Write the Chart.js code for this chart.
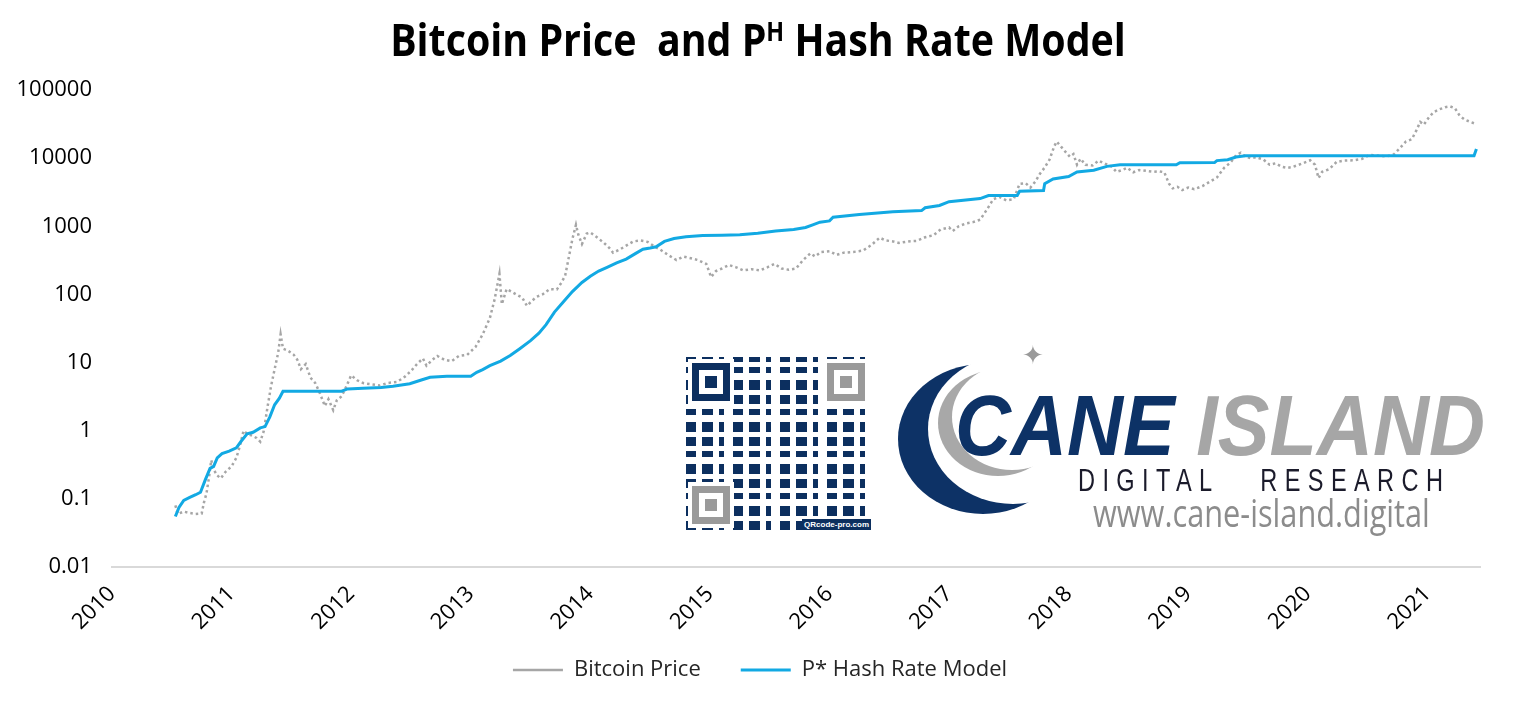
<!DOCTYPE html>
<html>
<head>
<meta charset="utf-8">
<script src="https://cdn.jsdelivr.net/npm/chart.js@4.4.1/dist/chart.umd.min.js"></script>
<style>
  body { margin: 0; background: #fff; }
  #wrap { position: relative; width: 1518px; height: 705px; overflow: hidden; }
  #title { position: absolute; left: 758px; top: 17px; white-space: nowrap; font: 700 44px "Open Sans", sans-serif; line-height: 44px; color: #000; transform-origin: 50% 0; }
  #title sup { font-size: 26px; vertical-align: 15px; line-height: 0; }
  .logo { position: absolute; white-space: pre; transform-origin: 0 0; }
  #qr { position: absolute; left: 686px; top: 357px; width: 185px; height: 173px;
    background:
      repeating-linear-gradient(0deg, transparent 0 9px, #fff 9px 14px, transparent 14px 24px, #fff 24px 31px, transparent 31px 37px, #fff 37px 42px),
      repeating-linear-gradient(90deg, #0c2f5f 0 10px, #fff 10px 16px, #0c2f5f 16px 27px, #fff 27px 33px, #0c2f5f 33px 38px, #fff 38px 47px); }
  .f { position: absolute; width: 38px; height: 38px; box-sizing: border-box; border: 7px solid #0c2f5f; background: #fff; box-shadow: 0 0 0 4px #fff; }
  .f::after { content: ''; position: absolute; left: 6px; top: 6px; width: 12px; height: 12px; background: #0c2f5f; }
  .f.g { border-color: #9a9a9a; }
  .f.g::after { background: #9a9a9a; }
  #qrlab { position: absolute; right: 0; bottom: 0; font: 700 8px "Liberation Sans", sans-serif; color: #fff; background: #0c2f5f; padding: 1px 2px; }
  #moonA { position: absolute; left: 928px; top: 354px; width: 170px; height: 150px; border-radius: 50%; box-shadow: -30px 10px 0 0 #0d3266; }
  #moonB { position: absolute; left: 952px; top: 364px; width: 120px; height: 106px; border-radius: 50%; box-shadow: -14px 6px 0 0 #a8a8a8; }
  #star { position: absolute; left: 1022px; top: 340px; font: 26px "DejaVu Sans", sans-serif; color: #9a9a9a; }
</style>
</head>
<body>
<div id="wrap">
  <canvas id="chart" width="1518" height="705"></canvas>
  <div id="title">Bitcoin Price&nbsp; and P<sup>H</sup> Hash Rate Model</div>
  <div id="qr">
    <div class="f" style="left:6px;top:6px"></div>
    <div class="f g" style="left:141px;top:6px"></div>
    <div class="f g" style="left:6px;top:129px"></div>
    <div id="qrlab">QRcode-pro.com</div>
  </div>
  <div id="moonA"></div>
  <div id="moonB"></div>
  <div id="star">✦</div>
  <div id="cane" class="logo" style="left:955px;top:383px;font:italic 700 85px 'Liberation Sans',sans-serif;line-height:85px"><span style="color:#0d3266">CANE</span><span style="color:#a6a6a6"> ISLAND</span></div>
  <div id="digital" class="logo" style="left:1078px;top:464px;font:400 32px 'Liberation Sans',sans-serif;line-height:32px;letter-spacing:10px;color:#1b1b2b">DIGITAL   RESEARCH</div>
  <div id="www" class="logo" style="left:1093px;top:493px;font:400 38px 'Open Sans',sans-serif;line-height:38px;color:#8c8c8c">www.cane-island.digital</div>
</div>
<script>
// series names
var seriesNames = ["Bitcoin Price", "P* Hash Rate Model"];

// bitcoin price (year as decimal, USD)
var priceYears = [2010.53, 2010.55, 2010.60, 2010.65, 2010.70, 2010.75, 2010.77, 2010.79, 2010.81, 2010.83,
  2010.85, 2010.88, 2010.91, 2010.95, 2011.00, 2011.04, 2011.07, 2011.10, 2011.13, 2011.17,
  2011.21, 2011.24, 2011.27, 2011.30, 2011.33, 2011.36, 2011.39, 2011.41, 2011.43, 2011.47,
  2011.52, 2011.55, 2011.58, 2011.62, 2011.66, 2011.70, 2011.74, 2011.78, 2011.81, 2011.85,
  2011.88, 2011.92, 2011.96, 2012.00, 2012.05, 2012.10, 2012.17, 2012.24, 2012.30, 2012.38,
  2012.44, 2012.50, 2012.55, 2012.60, 2012.63, 2012.68, 2012.72, 2012.78, 2012.84, 2012.90,
  2012.97, 2013.04, 2013.10, 2013.16, 2013.20, 2013.22, 2013.24, 2013.26, 2013.30, 2013.34,
  2013.38, 2013.43, 2013.47, 2013.51, 2013.55, 2013.60, 2013.66, 2013.72, 2013.76, 2013.79,
  2013.82, 2013.85, 2013.88, 2013.90, 2013.93, 2013.97, 2014.00, 2014.05, 2014.11, 2014.16,
  2014.19, 2014.24, 2014.30, 2014.36, 2014.42, 2014.48, 2014.54, 2014.58, 2014.65, 2014.72,
  2014.78, 2014.84, 2014.90, 2014.97, 2015.01, 2015.05, 2015.10, 2015.16, 2015.22, 2015.28,
  2015.35, 2015.42, 2015.48, 2015.54, 2015.60, 2015.66, 2015.72, 2015.78, 2015.84, 2015.88,
  2015.93, 2016.00, 2016.06, 2016.12, 2016.20, 2016.28, 2016.35, 2016.42, 2016.47, 2016.53,
  2016.58, 2016.66, 2016.73, 2016.80, 2016.87, 2016.93, 2017.00, 2017.03, 2017.08, 2017.14,
  2017.20, 2017.26, 2017.32, 2017.37, 2017.42, 2017.48, 2017.54, 2017.59, 2017.64, 2017.68,
  2017.72, 2017.76, 2017.80, 2017.84, 2017.88, 2017.90, 2017.94, 2017.98, 2018.01, 2018.04,
  2018.07, 2018.10, 2018.14, 2018.20, 2018.25, 2018.31, 2018.36, 2018.40, 2018.45, 2018.49,
  2018.54, 2018.59, 2018.65, 2018.71, 2018.76, 2018.80, 2018.84, 2018.87, 2018.91, 2018.95,
  2019.00, 2019.05, 2019.12, 2019.18, 2019.24, 2019.30, 2019.35, 2019.40, 2019.44, 2019.48,
  2019.52, 2019.57, 2019.63, 2019.68, 2019.73, 2019.78, 2019.83, 2019.87, 2019.95, 2020.02,
  2020.06, 2020.09, 2020.12, 2020.18, 2020.24, 2020.30, 2020.38, 2020.45, 2020.52, 2020.60,
  2020.66, 2020.72, 2020.77, 2020.82, 2020.87, 2020.91, 2020.94, 2020.97, 2021.01, 2021.05,
  2021.10, 2021.15, 2021.19, 2021.23, 2021.27, 2021.31, 2021.36, 2021.40];
var priceValues = [0.08, 0.06, 0.065, 0.062, 0.06, 0.061, 0.09, 0.12, 0.2, 0.37,
  0.27, 0.22, 0.2, 0.25, 0.3, 0.4, 0.6, 1.0, 0.9, 0.85,
  0.78, 0.69, 1.0, 2.2, 4.5, 8, 14, 26, 16, 15,
  13, 11, 8, 9.5, 6, 5, 3.5, 2.3, 2.9, 2.0,
  2.8, 3.2, 4.5, 6.5, 5.5, 5.0, 4.8, 4.6, 5.0, 5.2,
  6.0, 7.5, 9.5, 11.5, 9, 11, 12.5, 11, 10.5, 12.5,
  13, 17, 26, 45, 85, 130, 200, 72, 120, 110,
  100, 90, 68, 80, 92, 100, 120, 118, 150, 190,
  350, 650, 1050, 750, 550, 780, 810, 700, 580, 480,
  410, 450, 520, 600, 620, 590, 500, 460, 380, 320,
  360, 340, 320, 280, 180, 220, 240, 270, 250, 225,
  235, 225, 250, 280, 240, 230, 240, 320, 400, 360,
  420, 430, 380, 410, 420, 440, 530, 680, 620, 600,
  570, 600, 610, 690, 740, 900, 960, 850, 1000, 1100,
  1150, 1250, 1800, 2500, 2700, 2400, 2500, 4200, 4300, 3700,
  4500, 5900, 7300, 9500, 15000, 17500, 14500, 12000, 10500, 11500,
  8000, 9800, 8000, 7800, 9200, 8200, 7500, 6300, 6700, 7200,
  6200, 6700, 6500, 6300, 6400, 6200, 4200, 3600, 3800, 3400,
  3700, 3500, 3900, 4500, 5200, 7200, 8500, 11000, 12000, 10500,
  10000, 10300, 9500, 8000, 8400, 7500, 7200, 7400, 8300, 9300,
  8000, 5100, 6300, 6900, 8800, 9200, 9300, 9700, 11200, 10800,
  10600, 11400, 14000, 17500, 19000, 26000, 34000, 31000, 39000, 47000,
  52000, 56000, 57500, 54000, 42000, 37000, 34000, 32000];

// P* hash rate model
var modelYears = [2010.53, 2010.56, 2010.60, 2010.65, 2010.70, 2010.74, 2010.78, 2010.82, 2010.85, 2010.88,
  2010.92, 2010.98, 2011.04, 2011.08, 2011.13, 2011.18, 2011.24, 2011.28, 2011.32, 2011.36,
  2011.40, 2011.43, 2011.92, 2011.97, 2012.10, 2012.25, 2012.35, 2012.49, 2012.58, 2012.66,
  2012.80, 2013.00, 2013.05, 2013.10, 2013.16, 2013.25, 2013.33, 2013.41, 2013.50, 2013.57,
  2013.63, 2013.70, 2013.77, 2013.85, 2013.93, 2014.00, 2014.07, 2014.14, 2014.22, 2014.30,
  2014.38, 2014.44, 2014.50, 2014.55, 2014.62, 2014.70, 2014.80, 2014.94, 2015.10, 2015.25,
  2015.40, 2015.55, 2015.70, 2015.80, 2015.86, 2015.92, 2016.00, 2016.03, 2016.25, 2016.53,
  2016.77, 2016.80, 2016.92, 2017.00, 2017.26, 2017.33, 2017.57, 2017.59, 2017.79, 2017.80,
  2017.87, 2018.00, 2018.07, 2018.21, 2018.32, 2018.43, 2018.90, 2018.93, 2019.22, 2019.24,
  2019.33, 2019.40, 2019.48, 2021.39, 2021.41];
var modelValues = [0.055, 0.075, 0.095, 0.105, 0.115, 0.125, 0.19, 0.28, 0.3, 0.4,
  0.46, 0.5, 0.56, 0.7, 0.9, 0.95, 1.1, 1.15, 1.6, 2.4,
  3.0, 3.8, 3.8, 4.1, 4.2, 4.3, 4.5, 4.9, 5.5, 6.1,
  6.3, 6.3, 7.2, 7.9, 9.0, 10.5, 12.7, 16, 21, 27,
  36, 55, 76, 110, 150, 185, 220, 250, 290, 330,
  400, 460, 480, 500, 600, 660, 700, 735, 740, 750,
  790, 850, 900, 960, 1050, 1150, 1200, 1360, 1490, 1630,
  1700, 1870, 2020, 2300, 2550, 2830, 2830, 3270, 3350, 4230,
  4950, 5380, 6270, 6630, 7570, 8000, 8000, 8570, 8600, 9200,
  9500, 10400, 10800, 10800, 13600];

// axis ticks
var yearTicks = [2010, 2011, 2012, 2013, 2014, 2015, 2016, 2017, 2018, 2019, 2020, 2021];
var valueTicks = [0.01, 0.1, 1, 10, 100, 1000, 10000, 100000];

function toPoints(xs, ys) {
  var pts = [];
  for (var i = 0; i < xs.length; i++) {
    pts.push({x: xs[i], y: ys[i]});
  }
  return pts;
}

var tickFont = {family: "'Open Sans', sans-serif", size: 22};

// nudge the legend a little to the right, like in the picture
var legendShift = {
  id: "legendShift",
  afterLayout: function(c) {
    c.legend.left += 28;
  }
};

var ctx = document.getElementById("chart").getContext("2d");
var chart = new Chart(ctx, {
  type: "line",
  data: {
    datasets: [
      {
        label: seriesNames[0],
        data: toPoints(priceYears, priceValues),
        borderColor: "#a6a6a6",
        backgroundColor: "#a6a6a6",
        borderWidth: 2.5,
        borderDash: [2.5, 3],
        pointRadius: 0,
        pointStyle: "line",
        tension: 0,
        order: 2
      },
      {
        label: seriesNames[1],
        data: toPoints(modelYears, modelValues),
        borderColor: "#12a9e3",
        backgroundColor: "#12a9e3",
        borderWidth: 3,
        pointRadius: 0,
        pointStyle: "line",
        tension: 0,
        order: 1
      }
    ]
  },
  plugins: [legendShift],
  options: {
    responsive: false,
    animation: false,
    devicePixelRatio: 1,
    layout: {
      padding: {left: 12, right: 38, top: 90, bottom: 14}
    },
    plugins: {
      title: {display: false},
      tooltip: {enabled: false},
      legend: {
        display: true,
        position: "bottom",
        labels: {
          usePointStyle: true,
          pointStyleWidth: 50,
          padding: 40,
          color: "#262626",
          font: {family: "'Open Sans', sans-serif", size: 22},
          sort: function(a, b) { return a.datasetIndex - b.datasetIndex; }
        }
      }
    },
    scales: {
      x: {
        type: "linear",
        min: 2010,
        max: 2021.44,
        grid: {display: false, drawTicks: false},
        border: {display: true, color: "#d9d9d9", width: 2},
        afterBuildTicks: function(scale) {
          scale.ticks = yearTicks.map(function(v) { return {value: v}; });
        },
        afterFit: function(scale) {
          scale.height = 52;
          // the rotated labels reach below this box; let them draw unclipped
          scale._computeLabelArea = function() { return null; };
        },
        ticks: {
          autoSkip: false,
          minRotation: 45,
          maxRotation: 45,
          padding: 14,
          color: "#000",
          font: tickFont,
          callback: function(v) { return String(v); }
        }
      },
      y: {
        type: "logarithmic",
        min: 0.01,
        max: 100000,
        grid: {display: false, drawTicks: false},
        border: {display: false},
        afterBuildTicks: function(scale) {
          scale.ticks = valueTicks.map(function(v) { return {value: v}; });
        },
        afterFit: function(scale) { scale.width = 100; },
        ticks: {
          padding: 20,
          color: "#000",
          font: tickFont,
          callback: function(v) { return String(v); }
        }
      }
    }
  }
});

// squeeze the overlay texts to the widths they have in the picture
function fitText(id, target, centered) {
  var el = document.getElementById(id);
  var w = el.offsetWidth;
  el.style.transform = (centered ? "translateX(-50%) " : "") + "scaleX(" + (target / w) + ")";
}
fitText("title", 736, true);
fitText("cane", 530, false);
fitText("digital", 372, false);
fitText("www", 337, false);
</script>
</body>
</html>
